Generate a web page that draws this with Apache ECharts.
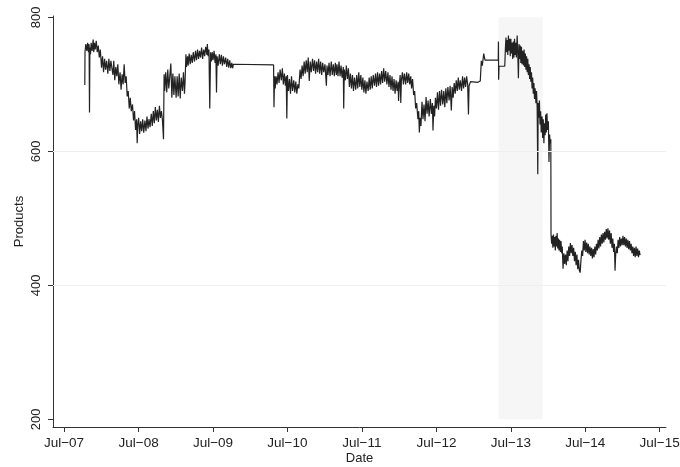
<!DOCTYPE html>
<html><head><meta charset="utf-8">
<script src="https://cdn.jsdelivr.net/npm/echarts@6/dist/echarts.min.js"></script>
<style>html,body{margin:0;padding:0;background:#fff}#c{width:680px;height:467px}</style>
</head><body><div id="c"></div>
<script>
const tickDates = ['2007-07-01','2008-07-01','2009-07-01','2010-07-01','2011-07-01','2012-07-01','2013-07-01','2014-07-01','2015-07-01'];
const tickLabels = ['Jul\u221207','Jul\u221208','Jul\u221209','Jul\u221210','Jul\u221211','Jul\u221212','Jul\u221213','Jul\u221214','Jul\u221215'];
const yTicks = [200, 400, 600, 800];
const gridValues = [400, 600];
const shade = ['2013-05-01', '2013-12-04'];

const p2007 = [['2007-10-11',699],['2007-10-12',748],['2007-10-16',760],['2007-10-21',750],['2007-10-25',762],['2007-10-29',748],['2007-11-01',760],['2007-11-03',658],['2007-11-05',755],['2007-11-08',745],['2007-11-11',762],['2007-11-16',750],['2007-11-21',767],['2007-11-24',748],['2007-11-27',762],['2007-12-01',752],['2007-12-06',765],['2007-12-11',748],['2007-12-16',758],['2007-12-21',740],['2007-12-26',752]];
const p2008 = [['2008-01-01',725],['2008-01-06',742],['2008-01-11',718],['2008-01-16',738],['2008-01-21',722],['2008-01-26',735],
['2008-02-01',716],['2008-02-06',738],['2008-02-11',720],['2008-02-16',735],['2008-02-21',724],['2008-02-26',714],
['2008-03-01',735],['2008-03-06',706],['2008-03-11',726],['2008-03-16',712],['2008-03-21',730],['2008-03-26',700],
['2008-04-01',718],['2008-04-06',692],['2008-04-11',715],['2008-04-16',700],['2008-04-21',730],['2008-04-26',702],
['2008-05-01',712],['2008-05-06',682],['2008-05-11',690],['2008-05-16',664],['2008-05-21',680],['2008-05-26',660],
['2008-06-01',670],['2008-06-06',646],['2008-06-11',660],['2008-06-16',632],['2008-06-21',648],['2008-06-24',612],['2008-06-27',640],
['2008-07-01',650],['2008-07-06',626],['2008-07-11',645],['2008-07-16',630],['2008-07-21',648],['2008-07-26',628],
['2008-08-01',646],['2008-08-06',630],['2008-08-11',652],['2008-08-16',634],['2008-08-21',648],['2008-08-26',636],
['2008-09-01',656],['2008-09-06',638],['2008-09-11',660],['2008-09-16',642],['2008-09-21',666],['2008-09-26',646],
['2008-10-01',662],['2008-10-06',644],['2008-10-11',668],['2008-10-16',650],['2008-10-21',660],['2008-10-26',646],['2008-10-31',618],
['2008-11-03',715],['2008-11-06',690],['2008-11-11',718],['2008-11-16',688],['2008-11-21',722],['2008-11-26',694],
['2008-12-01',712],['2008-12-06',731],['2008-12-11',680],['2008-12-16',716],['2008-12-21',684],['2008-12-26',712]];
const p2009 = [['2009-01-01',680],['2009-01-06',712],['2009-01-11',682],['2009-01-16',716],['2009-01-21',679],['2009-01-26',710],
['2009-02-01',690],['2009-02-06',718],['2009-02-11',686],['2009-02-14',705],['2009-02-18',745],['2009-02-21',726],['2009-02-26',742],
['2009-03-01',728],['2009-03-06',746],['2009-03-11',730],['2009-03-16',744],['2009-03-21',732],['2009-03-26',748],
['2009-04-01',734],['2009-04-06',750],['2009-04-11',736],['2009-04-16',752],['2009-04-21',738],['2009-04-26',750],
['2009-05-01',740],['2009-05-06',755],['2009-05-11',738],['2009-05-16',752],['2009-05-21',742],['2009-05-26',756],
['2009-06-01',744],['2009-06-03',760],['2009-06-07',742],['2009-06-11',752],['2009-06-15',664],['2009-06-19',748],['2009-06-23',734],['2009-06-27',748],
['2009-07-01',736],['2009-07-06',750],['2009-07-11',732],['2009-07-15',745],['2009-07-18',688],['2009-07-21',742],['2009-07-26',728],
['2009-08-01',745],['2009-08-06',730],['2009-08-11',744],['2009-08-16',728],['2009-08-21',742],['2009-08-26',730],
['2009-09-01',740],['2009-09-06',726],['2009-09-11',738],['2009-09-16',725],['2009-09-21',736],['2009-09-26',724],
['2009-10-01',732],['2009-10-05',724],['2009-10-09',730],['2009-10-12',728]];
const p2010 = [['2010-04-24',729],['2010-04-26',666],['2010-04-29',712],['2010-05-02',694],['2010-05-06',712],['2010-05-11',700],['2010-05-16',718],['2010-05-21',702],['2010-05-26',722],
['2010-06-01',706],['2010-06-06',724],['2010-06-11',700],['2010-06-16',716],['2010-06-21',698],['2010-06-25',712],['2010-06-28',649],
['2010-07-01',714],['2010-07-06',690],['2010-07-11',708],['2010-07-16',686],['2010-07-21',712],['2010-07-26',690],
['2010-08-01',706],['2010-08-06',688],['2010-08-11',704],['2010-08-16',686],['2010-08-21',700],['2010-08-26',694],
['2010-09-01',722],['2010-09-06',708],['2010-09-11',728],['2010-09-16',712],['2010-09-21',734],['2010-09-26',716],
['2010-10-01',736],['2010-10-06',718],['2010-10-11',740],['2010-10-16',705],['2010-10-21',734],['2010-10-26',718],
['2010-11-01',738],['2010-11-06',720],['2010-11-11',736],['2010-11-16',716],['2010-11-21',734],['2010-11-26',718],
['2010-12-01',738],['2010-12-06',716],['2010-12-11',734],['2010-12-16',714],['2010-12-21',732],['2010-12-26',718]];
const p2011 = [['2011-01-01',730],['2011-01-05',712],['2011-01-08',698],['2011-01-11',728],['2011-01-16',714],['2011-01-21',732],['2011-01-26',712],
['2011-02-01',734],['2011-02-06',714],['2011-02-11',730],['2011-02-16',712],['2011-02-21',732],['2011-02-26',714],
['2011-03-01',730],['2011-03-06',712],['2011-03-11',734],['2011-03-16',712],['2011-03-21',728],['2011-03-26',710],
['2011-04-01',726],['2011-04-03',664],['2011-04-06',722],['2011-04-11',706],['2011-04-16',728],['2011-04-21',708],['2011-04-26',724],
['2011-05-01',696],['2011-05-06',716],['2011-05-11',694],['2011-05-16',714],['2011-05-21',690],['2011-05-26',710],
['2011-06-01',692],['2011-06-06',714],['2011-06-11',694],['2011-06-16',718],['2011-06-21',696],['2011-06-26',714],
['2011-07-01',692],['2011-07-06',710],['2011-07-11',688],['2011-07-16',706],['2011-07-21',686],['2011-07-26',704],
['2011-08-01',690],['2011-08-06',710],['2011-08-11',692],['2011-08-16',712],['2011-08-21',694],['2011-08-26',714],
['2011-09-01',698],['2011-09-06',716],['2011-09-11',696],['2011-09-16',718],['2011-09-21',698],['2011-09-26',716],
['2011-10-01',700],['2011-10-06',720],['2011-10-11',702],['2011-10-16',724],['2011-10-21',704],['2011-10-26',720],
['2011-11-01',700],['2011-11-06',718],['2011-11-11',696],['2011-11-16',714],['2011-11-21',692],['2011-11-26',712],
['2011-12-01',690],['2011-12-06',708],['2011-12-11',686],['2011-12-16',706],['2011-12-21',690],['2011-12-26',704],['2011-12-28',675]];
const p2012 = [['2012-01-01',700],['2012-01-05',714],['2012-01-08',672],['2012-01-11',706],['2012-01-16',718],['2012-01-21',700],['2012-01-26',716],
['2012-02-01',700],['2012-02-06',718],['2012-02-11',702],['2012-02-16',716],['2012-02-21',700],['2012-02-26',712],
['2012-03-01',694],['2012-03-06',708],['2012-03-11',684],['2012-03-16',690],['2012-03-21',664],['2012-03-26',672],
['2012-04-01',648],['2012-04-05',660],['2012-04-08',628],['2012-04-12',650],['2012-04-16',638],['2012-04-21',674],['2012-04-26',648],
['2012-05-01',670],['2012-05-06',645],['2012-05-11',681],['2012-05-16',656],['2012-05-21',676],['2012-05-26',652],
['2012-06-01',678],['2012-06-06',656],['2012-06-11',672],['2012-06-14',631],['2012-06-18',668],['2012-06-22',652],['2012-06-26',680],
['2012-07-01',664],['2012-07-06',688],['2012-07-11',662],['2012-07-16',690],['2012-07-21',668],['2012-07-26',692],
['2012-08-01',670],['2012-08-06',690],['2012-08-11',666],['2012-08-16',694],['2012-08-21',672],['2012-08-26',696],
['2012-09-01',676],['2012-09-06',698],['2012-09-12',661],['2012-09-16',696],['2012-09-21',680],['2012-09-26',702],
['2012-10-01',686],['2012-10-06',706],['2012-10-11',690],['2012-10-16',710],['2012-10-21',692],['2012-10-26',706],
['2012-11-01',690],['2012-11-06',712],['2012-11-11',694],['2012-11-16',710],['2012-11-21',696],['2012-11-26',712],
['2012-12-01',700],['2012-12-05',655],['2012-12-08',698],['2012-12-15',704]];
const p2013 = [['2013-01-20',703],['2013-02-01',705],['2013-02-06',735],['2013-02-11',728],['2013-02-18',746],['2013-02-24',736],['2013-04-30',736],['2013-05-01',764],['2013-05-02',707],['2013-05-04',727],['2013-06-01',727],
['2013-06-04',752],['2013-06-07',770],['2013-06-10',748],['2013-06-13',766],['2013-06-16',744],['2013-06-19',773],['2013-06-22',750],['2013-06-25',768],['2013-06-28',742],
['2013-07-01',768],['2013-07-04',746],['2013-07-07',762],['2013-07-10',738],['2013-07-13',764],['2013-07-16',740],['2013-07-19',768],['2013-07-22',744],['2013-07-25',762],['2013-07-28',740],
['2013-08-01',773],['2013-08-04',745],['2013-08-07',709],['2013-08-10',760],['2013-08-13',738],['2013-08-16',758],['2013-08-19',732],['2013-08-22',756],['2013-08-25',730],['2013-08-28',750],
['2013-09-01',728],['2013-09-04',752],['2013-09-07',726],['2013-09-10',746],['2013-09-13',722],['2013-09-16',742],['2013-09-19',718],['2013-09-22',738],['2013-09-25',714],['2013-09-28',730],
['2013-10-01',708],['2013-10-04',726],['2013-10-07',704],['2013-10-10',718],['2013-10-13',694],['2013-10-16',710],['2013-10-19',686],['2013-10-22',702],['2013-10-25',678],['2013-10-28',694],
['2013-11-01',672],['2013-11-04',690],['2013-11-07',666],['2013-11-10',566],['2013-11-12',672],['2013-11-15',650],['2013-11-18',676],['2013-11-21',640],['2013-11-24',660],['2013-11-27',628],
['2013-12-01',652],['2013-12-04',620],['2013-12-07',648],['2013-12-10',612],['2013-12-13',642],['2013-12-16',624],['2013-12-19',655],['2013-12-22',628],['2013-12-25',657],['2013-12-28',632]];
const p2014 = [['2014-01-01',645],['2014-01-04',584],['2014-01-07',625],['2014-01-10',612],['2014-01-13',618],['2014-01-14',476],['2014-01-17',462],['2014-01-20',474],['2014-01-23',456],['2014-01-26',476],['2014-01-29',458],
['2014-02-01',472],['2014-02-04',452],['2014-02-07',474],['2014-02-10',458],['2014-02-13',478],['2014-02-16',455],['2014-02-19',470],['2014-02-22',452],['2014-02-25',468],
['2014-03-01',450],['2014-03-04',466],['2014-03-07',448],['2014-03-10',458],['2014-03-14',425],['2014-03-18',448],['2014-03-22',432],['2014-03-26',446],['2014-03-30',430],
['2014-04-03',452],['2014-04-07',436],['2014-04-11',458],['2014-04-15',444],['2014-04-19',463],['2014-04-23',448],['2014-04-27',460],
['2014-05-01',444],['2014-05-05',456],['2014-05-09',436],['2014-05-13',450],['2014-05-17',430],['2014-05-21',446],['2014-05-25',424],['2014-05-29',438],
['2014-06-02',422],['2014-06-06',419],['2014-06-10',438],['2014-06-14',452],['2014-06-18',444],['2014-06-22',466],['2014-06-26',452],['2014-06-30',468],
['2014-07-04',450],['2014-07-08',464],['2014-07-12',448],['2014-07-16',462],['2014-07-20',446],['2014-07-24',458],['2014-07-28',444],
['2014-08-01',456],['2014-08-05',440],['2014-08-09',454],['2014-08-13',442],['2014-08-17',458],['2014-08-21',446],['2014-08-25',462],['2014-08-29',452],
['2014-09-02',468],['2014-09-06',455],['2014-09-10',472],['2014-09-14',458],['2014-09-18',476],['2014-09-22',462],['2014-09-26',478],['2014-09-30',464],
['2014-10-04',480],['2014-10-08',468],['2014-10-12',484],['2014-10-16',470],['2014-10-20',485],['2014-10-24',468],['2014-10-28',482],
['2014-11-01',462],['2014-11-05',478],['2014-11-09',456],['2014-11-13',470],['2014-11-17',450],['2014-11-21',462],['2014-11-24',422],['2014-11-27',445],
['2014-12-01',458],['2014-12-05',448],['2014-12-09',468],['2014-12-13',456],['2014-12-17',472],['2014-12-21',458],['2014-12-25',470],['2014-12-29',460]];
const p2015 = [['2015-01-02',474],['2015-01-06',460],['2015-01-10',472],['2015-01-14',458],['2015-01-18',470],['2015-01-22',456],['2015-01-26',468],['2015-01-30',454],
['2015-02-03',466],['2015-02-07',452],['2015-02-11',462],['2015-02-15',448],['2015-02-19',458],['2015-02-23',444],['2015-02-27',456],
['2015-03-03',442],['2015-03-07',458],['2015-03-11',444],['2015-03-15',455],['2015-03-19',442],['2015-03-23',452],['2015-03-27',445]];

const series = [].concat(p2007, p2008, p2009, p2010, p2011, p2012, p2013, p2014, p2015);
const toTime = s => Date.UTC(+s.slice(0,4), +s.slice(5,7) - 1, +s.slice(8,10));
const tickTimes = tickDates.map(toTime);

const FONT = '"Liberation Sans", Arial, sans-serif';
const TXT = '#222';
const chart = echarts.init(document.getElementById('c'), null, {renderer: 'canvas'});
chart.setOption({
  animation: false,
  backgroundColor: '#ffffff',
  grid: {left: 53, right: 14, top: 16, bottom: 40, containLabel: false, outerBoundsMode: 'none'},
  xAxis: {
    type: 'value',
    min: toTime('2007-05-08'),
    max: toTime('2015-08-01'),
    name: 'Date', nameLocation: 'middle', nameGap: 25, nameMoveOverlap: false,
    nameTextStyle: {color: TXT, fontSize: 13, fontFamily: FONT},
    axisLine: {show: true, lineStyle: {color: '#333', width: 1}},
    axisTick: {show: true, length: 5, customValues: tickTimes, lineStyle: {color: '#333'}},
    axisLabel: {
      customValues: tickTimes, margin: 9, color: TXT, fontSize: 13.5, fontFamily: FONT,
      showMinLabel: true, showMaxLabel: true,
      formatter: v => { const i = tickTimes.indexOf(v); return i >= 0 ? tickLabels[i] : ''; }
    },
    splitLine: {show: false}
  },
  yAxis: {
    type: 'value', min: 188.6, max: 802,
    name: 'Products', nameLocation: 'middle', nameGap: 27, nameMoveOverlap: false,
    nameTextStyle: {color: TXT, fontSize: 13, fontFamily: FONT},
    axisLine: {show: true, lineStyle: {color: '#333', width: 1}},
    axisTick: {show: true, length: 5, customValues: yTicks, lineStyle: {color: '#333'}},
    axisLabel: {customValues: yTicks, rotate: 90, margin: 10, color: TXT, fontSize: 13, fontFamily: FONT},
    splitLine: {show: false}
  },
  series: [
    {
      type: 'line', data: [], z: 1, silent: true,
      markArea: {silent: true, itemStyle: {color: '#f6f6f6'},
        data: [[{xAxis: toTime(shade[0]), yAxis: 200}, {xAxis: toTime(shade[1]), yAxis: 800}]]},
      markLine: {silent: true, symbol: 'none', label: {show: false},
        lineStyle: {color: '#efefef', width: 1, type: 'solid'},
        data: gridValues.map(v => ({yAxis: v}))}
    },
    {
      type: 'line', z: 3, showSymbol: false, symbol: 'none',
      data: series.map(d => [toTime(d[0]), d[1]]),
      lineStyle: {color: '#222', width: 1.2},
      emphasis: {disabled: true}
    }
  ]
});
</script>
</body></html>
